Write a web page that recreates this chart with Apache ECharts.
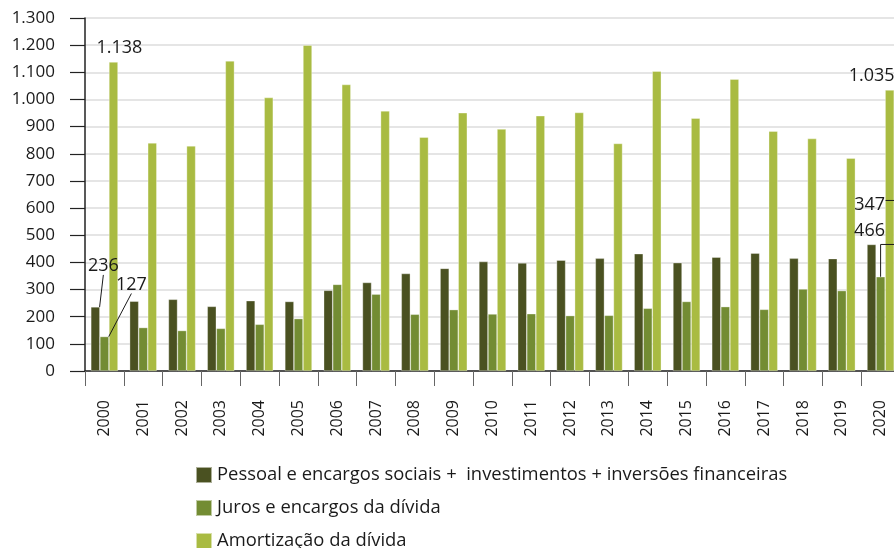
<!DOCTYPE html>
<html>
<head>
<meta charset="utf-8">
<script src="https://cdn.jsdelivr.net/npm/echarts@6/dist/echarts.min.js"></script>
<style>
  html, body { margin: 0; padding: 0; background: #fff; }
  #chart { width: 894px; height: 548px; }
</style>
</head>
<body>
<div id="chart"></div>
<script>
var years = ['2000', '2001', '2002', '2003', '2004', '2005', '2006', '2007', '2008', '2009', '2010',
             '2011', '2012', '2013', '2014', '2015', '2016', '2017', '2018', '2019', '2020'];
var pessoal = [236, 257, 264, 238, 259, 256, 297, 326, 359, 378, 403, 398, 408, 415, 432, 399, 419, 434, 415, 414, 466];
var juros = [127, 160, 149, 157, 172, 193, 319, 283, 209, 226, 210, 211, 204, 205, 231, 256, 237, 227, 302, 296, 347];
var amortizacao = [1138, 840, 829, 1142, 1007, 1200, 1055, 958, 861, 951, 891, 940, 952, 838, 1104, 931, 1075, 883, 856, 784, 1035];
var names = ['Pessoal e encargos sociais +  investimentos + inversões financeiras',
             'Juros e encargos da dívida',
             'Amortização da dívida'];
var labelledIdx = [0, 20];

var colors = ['#4a5121', '#738c33', '#a9bb42'];
var textColor = '#1a1a1a';
var font = 'Open Sans';

function fmt(v) {
    return String(v).replace(/\B(?=(\d{3})+(?!\d))/g, '.');
}

// label offsets per series, per labelled data index: [dx, dy, guide line]
var labelShift = [
    { 0: [8, -27, true], 20: [-2, 0, false] },
    { 0: [27, -38, true], 20: [-11, -58, false] },
    { 0: [6, 0, false], 20: [-18, 0, false] }
];

function makeData(values, s) {
    return values.map(function (v, i) {
        if (labelledIdx.indexOf(i) < 0) return v;
        var sh = labelShift[s][i];
        return {
            value: v,
            label: { show: true },
            labelLine: { show: !!sh[2] }
        };
    });
}

function layoutFor(s) {
    return function (p) {
        var sh = labelShift[s][p.dataIndex];
        if (!sh) return {};
        return { dx: sh[0], dy: sh[1] };
    };
}

var seriesList = [pessoal, juros, amortizacao].map(function (vals, s) {
    return {
        name: names[s],
        type: 'bar',
        z: s === 1 ? 3 : 2,
        data: makeData(vals, s),
        barGap: '0%',
        barCategoryGap: '30%',
        itemStyle: {
            color: colors[s],
            borderColor: 'rgba(255,255,255,0.55)',
            borderWidth: 0.6
        },
        label: {
            show: false,
            position: 'top',
            color: textColor,
            fontFamily: font,
            fontSize: 18,
            formatter: function (p) { return fmt(p.value); }
        },
        labelLine: {
            lineStyle: { color: textColor, width: 1 }
        },
        labelLayout: layoutFor(s)
    };
});

var chart = echarts.init(document.getElementById('chart'));
chart.setOption({
    animation: false,
    color: colors,
    grid: { left: 85, top: 18, width: 815, height: 353, containLabel: false, outerBoundsMode: 'none' },
    legend: {
        orient: 'vertical',
        left: 190,
        top: 461,
        height: 120,
        itemWidth: 16,
        itemHeight: 16,
        itemGap: 15,
        icon: 'rect',
        textStyle: { color: textColor, fontFamily: font, fontSize: 18.4, lineHeight: 16 },
        data: names
    },
    xAxis: {
        type: 'category',
        data: years,
        axisLine: { lineStyle: { color: '#222', width: 1.5 } },
        axisTick: { show: true, length: 15, lineStyle: { color: '#666', width: 1 } },
        axisLabel: {
            rotate: 90,
            margin: 29,
            color: textColor,
            fontFamily: font,
            fontSize: 16
        }
    },
    yAxis: {
        type: 'value',
        min: 0,
        max: 1300,
        interval: 100,
        axisLine: { show: true, lineStyle: { color: '#222', width: 1.5 } },
        axisTick: { show: true, length: 15, lineStyle: { color: '#222', width: 1.2 } },
        axisLabel: {
            margin: 30,
            color: textColor,
            fontFamily: font,
            fontSize: 17,
            formatter: fmt
        },
        splitLine: { lineStyle: { color: '#dcdcdc', width: 1.5 } }
    },
    series: seriesList
});

// bent leader for the last "Juros" label, running up to the "Pessoal" level and round the edge
var last = years.length - 1;
var pJ = chart.convertToPixel({ xAxisIndex: 0, yAxisIndex: 0 }, [last, juros[last]]);
var pP = chart.convertToPixel({ xAxisIndex: 0, yAxisIndex: 0 }, [last, pessoal[last]]);
chart.setOption({
    graphic: [{
        type: 'polyline',
        z: 10,
        shape: {
            points: [
                [pJ[0], pJ[1]],
                [pJ[0], pP[1]],
                [pJ[0] + 20, pP[1]],
                [pJ[0] + 20, pP[1] - 44],
                [pJ[0] + 5, pP[1] - 44]
            ]
        },
        style: { stroke: textColor, lineWidth: 1, fill: null }
    }]
});
</script>
</body>
</html>
